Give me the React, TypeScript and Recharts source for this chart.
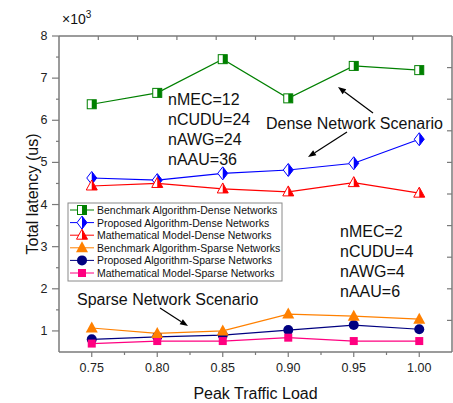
import React from 'react';
import { LineChart, Line, XAxis, YAxis, Customized } from 'recharts';

// ---- data (latency in ×10^3 us) ----
const loads = [0.75, 0.8, 0.85, 0.9, 0.95, 1.0];
const benchDense = [6.38, 6.65, 7.45, 6.52, 7.29, 7.19];
const propDense = [4.63, 4.58, 4.74, 4.82, 4.98, 5.55];
const mathDense = [4.44, 4.5, 4.37, 4.3, 4.52, 4.27];
const benchSparse = [1.07, 0.94, 1.0, 1.4, 1.35, 1.28];
const propSparse = [0.8, 0.86, 0.9, 1.02, 1.14, 1.04];
const mathSparse = [0.7, 0.76, 0.76, 0.84, 0.76, 0.76];

const seriesNames = [
  'Benchmark Algorithm-Dense Networks',
  'Proposed Algorithm-Dense Networks',
  'Mathematical Model-Dense Networks',
  'Benchmark Algorithm-Sparse Networks',
  'Proposed Algorithm-Sparse Networks',
  'Mathematical Model-Sparse Networks',
];

const xTicks = [0.75, 0.8, 0.85, 0.9, 0.95, 1.0];
const xMinorTicks = [0.775, 0.825, 0.875, 0.925, 0.975];
const yTicks = [1, 2, 3, 4, 5, 6, 7, 8];
const yMinorTicks = [1.5, 2.5, 3.5, 4.5, 5.5, 6.5, 7.5];
const frameTicks = [1, 2, 3, 4, 5, 6, 7, 8, 9];

const xAllTicks = [...xTicks, ...xMinorTicks].sort((a, b) => a - b);
const yAllTicks = [...yTicks, ...yMinorTicks].sort((a, b) => a - b);

const data = loads.map((l, i) => ({
  load: l,
  bd: benchDense[i],
  pd: propDense[i],
  md: mathDense[i],
  bs: benchSparse[i],
  ps: propSparse[i],
  ms: mathSparse[i],
}));

const FONT = "'Liberation Sans', Arial, sans-serif";
const FRAME = '#7a7a7a';

const C = {
  bd: '#008000',
  pd: '#0000ff',
  md: '#ff0000',
  bs: '#ff8000',
  ps: '#000080',
  ms: '#ff0080',
};

const isMajor = (v: number, list: number[]) => list.some((t) => Math.abs(t - v) < 1e-9);

// ---- marker shapes ----
const HalfSquare = ({ cx, cy, color }: any) => (
  <g>
    <rect x={cx - 4.5} y={cy - 4.5} width={9} height={9} fill="#fff" stroke={color} strokeWidth={1} />
    <rect x={cx} y={cy - 4.5} width={4.5} height={9} fill={color} />
  </g>
);
const HalfDiamond = ({ cx, cy, color }: any) => (
  <g>
    <polygon
      points={`${cx},${cy - 6.5} ${cx + 5},${cy} ${cx},${cy + 6.5} ${cx - 5},${cy}`}
      fill="#fff"
      stroke={color}
      strokeWidth={1}
    />
    <polygon points={`${cx},${cy - 6.5} ${cx + 5},${cy} ${cx},${cy + 6.5}`} fill={color} />
  </g>
);
const HalfTriangle = ({ cx, cy, color }: any) => (
  <g>
    <polygon points={`${cx},${cy - 6} ${cx + 5.5},${cy + 4} ${cx - 5.5},${cy + 4}`} fill="#fff" stroke={color} strokeWidth={1} />
    <polygon points={`${cx},${cy - 6} ${cx + 5.5},${cy + 4} ${cx},${cy + 4}`} fill={color} />
  </g>
);
const Triangle = ({ cx, cy, color }: any) => (
  <polygon points={`${cx},${cy - 6.5} ${cx + 6},${cy + 4.5} ${cx - 6},${cy + 4.5}`} fill={color} />
);
const Circle = ({ cx, cy, color }: any) => <circle cx={cx} cy={cy} r={5} fill={color} />;
const Square = ({ cx, cy, color }: any) => (
  <rect x={cx - 4} y={cy - 4} width={8} height={8} fill={color} />
);

const makeDot = (Shape: any, color: string) => (p: any) => {
  const { cx, cy, index } = p;
  if (cx == null || cy == null) return <g key={`d-${index}`} />;
  return (
    <g key={`d-${index}`}>
      <Shape cx={cx} cy={cy} color={color} />
    </g>
  );
};

const legendItems = [
  { name: seriesNames[0], Shape: HalfSquare, color: C.bd },
  { name: seriesNames[1], Shape: HalfDiamond, color: C.pd },
  { name: seriesNames[2], Shape: HalfTriangle, color: C.md },
  { name: seriesNames[3], Shape: Triangle, color: C.bs },
  { name: seriesNames[4], Shape: Circle, color: C.ps },
  { name: seriesNames[5], Shape: Square, color: C.ms },
];

const Arrow = ({ x1, y1, x2, y2 }: any) => {
  const ang = Math.atan2(y2 - y1, x2 - x1);
  const L = 8;
  const W = 3;
  const bx = x2 - L * Math.cos(ang);
  const by = y2 - L * Math.sin(ang);
  const px = -Math.sin(ang) * W;
  const py = Math.cos(ang) * W;
  return (
    <g>
      <line x1={x1} y1={y1} x2={bx} y2={by} stroke="#000" strokeWidth={1.2} />
      <polygon points={`${x2},${y2} ${bx + px},${by + py} ${bx - px},${by - py}`} fill="#000" />
    </g>
  );
};

const txt = { fontFamily: FONT, fill: '#111' };

const Overlay = () => (
  <g>
    <text x={62} y={24} fontSize={14} {...txt}>
      ×10
      <tspan dy={-6} fontSize={10}>3</tspan>
    </text>
    <text x={255.5} y={393} fontSize={16} textAnchor="middle" dominantBaseline="central" {...txt}>
      Peak Traffic Load
    </text>
    <text
      x={32}
      y={194}
      fontSize={16}
      textAnchor="middle"
      dominantBaseline="central"
      transform="rotate(-90 32 194)"
      {...txt}
    >
      Total latency (us)
    </text>
    {['nMEC=12', 'nCUDU=24', 'nAWG=24', 'nAAU=36'].map((s, i) => (
      <text key={s} x={168} y={99.5 + i * 20} fontSize={16} dominantBaseline="central" {...txt}>
        {s}
      </text>
    ))}
    <text x={266} y={123} fontSize={16} dominantBaseline="central" {...txt}>
      Dense Network Scenario
    </text>
    <Arrow x1={373} y1={113} x2={338} y2={87} />
    <Arrow x1={347} y1={132} x2={308} y2={157} />
    {['nMEC=2', 'nCUDU=4', 'nAWG=4', 'nAAU=6'].map((s, i) => (
      <text key={s} x={340} y={231 + i * 20} fontSize={16} dominantBaseline="central" {...txt}>
        {s}
      </text>
    ))}
    <text x={77} y={299} fontSize={16} dominantBaseline="central" {...txt}>
      Sparse Network Scenario
    </text>
    <Arrow x1={160} y1={308} x2={188} y2={326} />
    <rect x={68} y={203} width={214} height={78} fill="#fff" stroke="#8a8a8a" strokeWidth={1} />
    {legendItems.map((it, i) => {
      const y = 210 + i * 12.6;
      const { Shape } = it;
      return (
        <g key={it.name}>
          <line x1={70} y1={y} x2={94} y2={y} stroke={it.color} strokeWidth={1} />
          <Shape cx={82} cy={y} color={it.color} />
          <text x={97} y={y} fontSize={10.5} dominantBaseline="central" {...txt}>
            {it.name}
          </text>
        </g>
      );
    })}
  </g>
);

const tickText = { fontFamily: FONT, fontSize: 12.5, fill: '#222' };

const XTick = (p: any) => {
  const { x, y, payload } = p;
  const v = payload.value;
  const major = isMajor(v, xTicks);
  return (
    <g>
      <line x1={x} y1={y} x2={x} y2={y + (major ? 5 : 3)} stroke={FRAME} strokeWidth={1.2} />
      {major && (
        <text x={x} y={y + 16} textAnchor="middle" dominantBaseline="central" {...tickText}>
          {v.toFixed(2)}
        </text>
      )}
    </g>
  );
};

const YTick = (p: any) => {
  const { x, y, payload } = p;
  const v = payload.value;
  const major = isMajor(v, yTicks);
  return (
    <g>
      <line x1={x} y1={y} x2={x - (major ? 7 : 3)} y2={y} stroke={FRAME} strokeWidth={1.2} />
      {major && (
        <text x={x - 11.5} y={y} textAnchor="end" dominantBaseline="central" {...tickText}>
          {v}
        </text>
      )}
    </g>
  );
};

// inward ticks for the top/right frame axes
const TopTick = (p: any) => {
  const { x, y } = p;
  return <line x1={x} y1={y} x2={x} y2={y + 4} stroke={FRAME} strokeWidth={1.2} />;
};
const RightTick = (p: any) => {
  const { x, y } = p;
  return <line x1={x} y1={y} x2={x - 5} y2={y} stroke={FRAME} strokeWidth={1.2} />;
};

export default function App() {
  return (
    <div style={{ position: 'absolute', left: 0, top: 0, width: 453, height: 403, background: '#fff' }}>
      <LineChart width={453} height={403} data={data} margin={{ top: 35, right: 0, bottom: 0, left: 0 }}>
        <XAxis
          dataKey="load"
          type="number"
          domain={[0.725, 1.025]}
          ticks={xAllTicks}
          interval={0}
          allowDataOverflow
          height={51}
          tick={XTick}
          tickSize={0}
          tickMargin={0}
          tickLine={false}
          axisLine={{ stroke: FRAME, strokeWidth: 1.5 }}
        />
        <YAxis
          type="number"
          domain={[0.5, 8]}
          ticks={yAllTicks}
          interval={0}
          allowDataOverflow
          width={59}
          tick={YTick}
          tickSize={0}
          tickMargin={0}
          tickLine={false}
          axisLine={{ stroke: FRAME, strokeWidth: 1.5 }}
        />
        <XAxis
          xAxisId="top"
          orientation="top"
          dataKey="load"
          type="number"
          domain={[0, 10]}
          ticks={frameTicks}
          interval={0}
          allowDataOverflow
          height={1}
          tick={TopTick}
          tickSize={0}
          tickMargin={0}
          tickLine={false}
          axisLine={{ stroke: FRAME, strokeWidth: 1.5 }}
        />
        <YAxis
          yAxisId="right"
          orientation="right"
          type="number"
          domain={[0, 10]}
          ticks={frameTicks}
          interval={0}
          allowDataOverflow
          width={1}
          tick={RightTick}
          tickSize={0}
          tickMargin={0}
          tickLine={false}
          axisLine={{ stroke: FRAME, strokeWidth: 1.5 }}
        />
        <Line
          xAxisId="top"
          yAxisId="right"
          dataKey="frame"
          stroke="none"
          dot={false}
          activeDot={false}
          legendType="none"
          isAnimationActive={false}
        />
        <Line dataKey="bd" stroke={C.bd} strokeWidth={1.2} isAnimationActive={false} dot={makeDot(HalfSquare, C.bd)} />
        <Line dataKey="pd" stroke={C.pd} strokeWidth={1.2} isAnimationActive={false} dot={makeDot(HalfDiamond, C.pd)} />
        <Line dataKey="md" stroke={C.md} strokeWidth={1.2} isAnimationActive={false} dot={makeDot(HalfTriangle, C.md)} />
        <Line dataKey="ps" stroke={C.ps} strokeWidth={1.2} isAnimationActive={false} dot={makeDot(Circle, C.ps)} />
        <Line dataKey="ms" stroke={C.ms} strokeWidth={1.2} isAnimationActive={false} dot={makeDot(Square, C.ms)} />
        <Line dataKey="bs" stroke={C.bs} strokeWidth={1.2} isAnimationActive={false} dot={makeDot(Triangle, C.bs)} />
        <Customized component={Overlay} />
      </LineChart>
    </div>
  );
}
